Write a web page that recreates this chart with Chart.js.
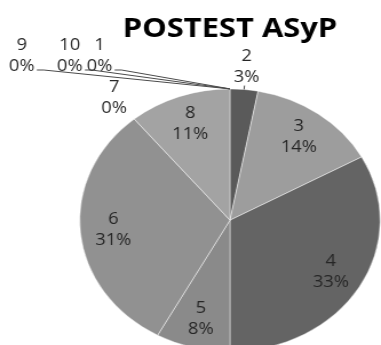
<!DOCTYPE html>
<html>
<head>
<meta charset="utf-8">
<script src="https://cdn.jsdelivr.net/npm/chart.js@4"></script>
<style>
  html, body { margin: 0; padding: 0; background: #fff; }
  #frame { position: relative; width: 381px; height: 345px; overflow: hidden; background: #fff; }
  /* the chart is drawn narrower and stretched sideways, so the pie comes out oval */
  #stretch { position: absolute; left: 0; top: 0; width: 333px; height: 360px;
             transform: scaleX(1.1441); transform-origin: 0 0; }
</style>
</head>
<body>
<div id="frame">
  <div id="stretch"><canvas id="pie"></canvas></div>
</div>
<script>
const TITLE = "POSTEST ASyP";
const categories = ["1", "2", "3", "4", "5", "6", "7", "8", "9", "10"];
const values = [0, 3, 14, 33, 8, 31, 0, 11, 0, 0];
const sliceColors = ["#7f7f7f", "#5a5a5a", "#9d9d9d", "#646464", "#8a8a8a",
                     "#919191", "#8f8f8f", "#a3a3a3", "#999999", "#999999"];

// labels that were dragged off to the top left, with leader lines back to the slice
const movedLabels = { "9": { x: 19, y: 45 }, "10": { x: 61, y: 45 }, "1": { x: 87, y: 45 } };

const LABEL_FONT = "16px 'Open Sans', sans-serif";
const LABEL_COLOR = "#262626";
const LINE_GAP = 21;

const sliceLabels = {
  id: "sliceLabels",
  afterDatasetsDraw(chart) {
    const ctx = chart.ctx;
    const meta = chart.getDatasetMeta(0);
    const total = values.reduce((a, b) => a + b, 0);
    ctx.save();
    ctx.font = LABEL_FONT;
    ctx.fillStyle = LABEL_COLOR;
    ctx.textAlign = "center";
    ctx.textBaseline = "middle";
    meta.data.forEach((arc, i) => {
      const p = arc.getProps(["x", "y", "startAngle", "endAngle", "outerRadius"], true);
      const mid = (p.startAngle + p.endAngle) / 2;
      const pct = Math.round(values[i] / total * 100) + "%";
      const name = categories[i];
      let lx, ly;
      const moved = movedLabels[name];
      if (moved) {
        lx = moved.x;
        ly = moved.y;
        // leader line from the end of the percentage to the slice edge
        const w = ctx.measureText(pct).width;
        const sx = lx + w / 2 + 2;
        const sy = ly + LINE_GAP + 4;
        const ex = p.x + p.outerRadius * Math.cos(p.startAngle);
        const ey = p.y + p.outerRadius * Math.sin(p.startAngle);
        ctx.save();
        ctx.strokeStyle = "#4a4a4a";
        ctx.lineWidth = 1;
        ctx.beginPath();
        ctx.moveTo(sx, sy);
        ctx.lineTo(sx + 6, sy);
        ctx.lineTo(ex, ey);
        ctx.stroke();
        ctx.restore();
      } else {
        const small = values[i] / total < 0.05;
        const k = small ? (values[i] > 0 ? 1.17 : 1.21) : 0.78;
        lx = p.x + p.outerRadius * k * Math.cos(mid);
        ly = p.y + p.outerRadius * k * Math.sin(mid) - LINE_GAP / 2;
        if (small && values[i] > 0) {
          ctx.save();
          ctx.strokeStyle = "#4a4a4a";
          ctx.beginPath();
          ctx.moveTo(p.x + p.outerRadius * Math.cos(mid), p.y + p.outerRadius * Math.sin(mid));
          ctx.lineTo(p.x + p.outerRadius * 1.03 * Math.cos(mid), p.y + p.outerRadius * 1.03 * Math.sin(mid));
          ctx.stroke();
          ctx.restore();
        }
      }
      ctx.fillText(name, lx, ly);
      ctx.fillText(pct, lx, ly + LINE_GAP);
    });
    ctx.restore();
  }
};

new Chart(document.getElementById("pie"), {
  type: "pie",
  data: {
    labels: categories,
    datasets: [{
      data: values,
      backgroundColor: sliceColors,
      borderColor: "rgba(255,255,255,0.45)",
      borderWidth: 1
    }]
  },
  options: {
    responsive: true,
    maintainAspectRatio: false,
    animation: false,
    layout: { padding: { left: 69, right: 0, top: 0, bottom: 8 } },
    plugins: {
      legend: { display: false },
      tooltip: { enabled: false },
      title: {
        display: true,
        text: TITLE,
        fullSize: false,
        color: "#000",
        font: { family: "'Open Sans', sans-serif", size: 27, weight: "bold", lineHeight: 1.2 },
        padding: { top: 13, bottom: 43 }
      }
    }
  },
  plugins: [sliceLabels]
});
</script>
</body>
</html>
